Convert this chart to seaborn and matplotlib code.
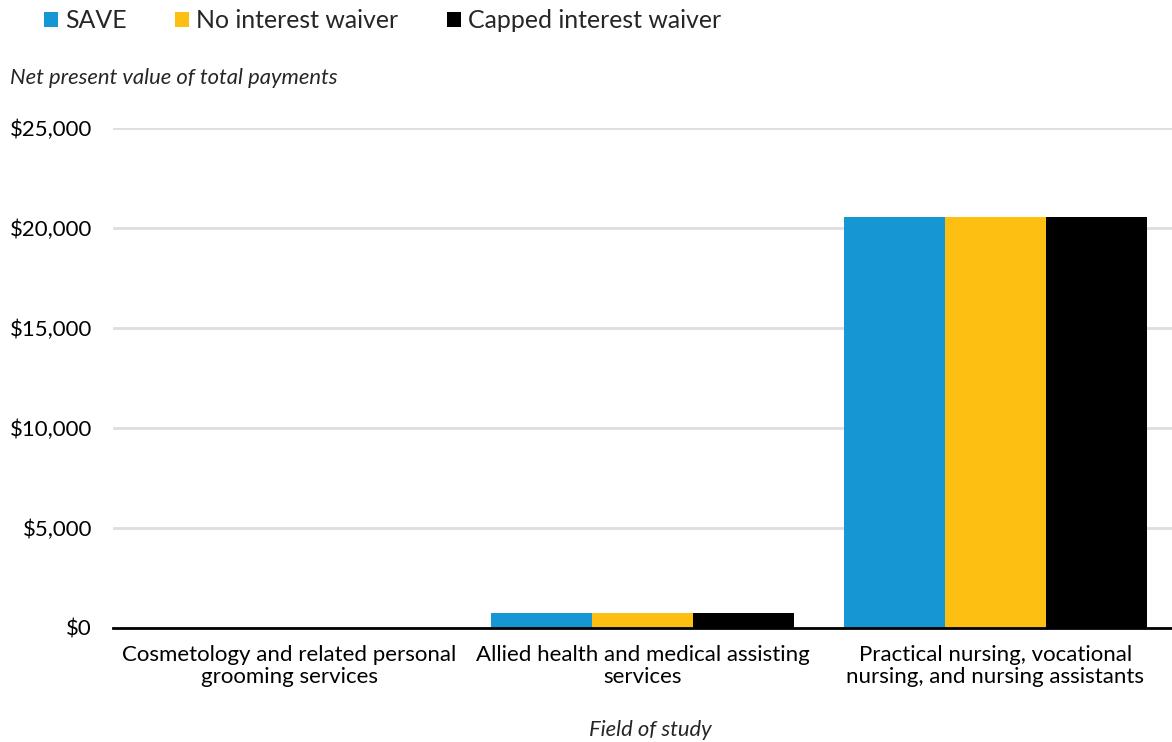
import numpy as np
import pandas as pd
import matplotlib
matplotlib.use("Agg")
import matplotlib.pyplot as plt
import seaborn as sns
from matplotlib.ticker import FuncFormatter
from matplotlib.patches import Patch

categories = ["Cosmetology and related personal\ngrooming services",
              "Allied health and medical assisting\nservices",
              "Practical nursing, vocational\nnursing, and nursing assistants"]
series = ["SAVE", "No interest waiver", "Capped interest waiver"]
save_vals = [0, 740, 20550]
no_waiver_vals = [0, 740, 20550]
capped_vals = [0, 740, 20550]
colors = ["#1696d2", "#fdbf11", "#000000"]
yticks = [0, 5000, 10000, 15000, 20000, 25000]

rows = []
for s, vals in zip(series, [save_vals, no_waiver_vals, capped_vals]):
    for c, v in zip(categories, vals):
        rows.append({"Field": c, "Series": s, "Value": v})
df = pd.DataFrame(rows)

sns.set_theme(style="white")
plt.rcParams['font.family'] = ['Lato', 'DejaVu Sans']

W, H = 1172, 742
fig = plt.figure(figsize=(W/100, H/100), dpi=100)
ax = fig.add_axes([113/W, 1-628/H, (1172-113)/W, 500/H])

sns.barplot(data=df, x="Field", y="Value", hue="Series", order=categories,
            hue_order=series, palette=colors, width=0.86, saturation=1,
            ax=ax, legend=False, linewidth=0)

ax.set_ylim(0, 25000)
ax.set_xlim(-0.5, 2.5)
ax.set_yticks(yticks)
ax.yaxis.set_major_formatter(FuncFormatter(lambda v, p: f"${v:,.0f}"))
ax.grid(axis="y", color="#dedede", linewidth=2)
ax.set_axisbelow(True)
for sp in ["top", "right", "left"]:
    ax.spines[sp].set_visible(False)
ax.spines["bottom"].set_color("#000000")
ax.spines["bottom"].set_linewidth(2)
ax.spines["bottom"].set_zorder(5)
ax.tick_params(axis="both", length=0, labelsize=16, colors="#000000")
ax.tick_params(axis="y", pad=15)
ax.tick_params(axis="x", pad=12)
for lbl in ax.get_xticklabels():
    lbl.set_linespacing(1.15)
ax.set_xlabel("")
ax.set_ylabel("")

fig.text(10/W, 1-78/H, "Net present value of total payments", style="italic",
         fontsize=15.8, va="center", ha="left")
fig.text(650/W, 1-730/H, "Field of study", style="italic",
         fontsize=15.8, va="center", ha="center")

handles = [Patch(facecolor=c, edgecolor="none", label=s) for c, s in zip(colors, series)]
fig.legend(handles=handles, loc="center left", bbox_to_anchor=(44/W, 1-21/H),
           ncol=3, frameon=False, fontsize=17.9, handlelength=0.55, handleheight=0.55,
           handletextpad=0.3, columnspacing=1.95, borderaxespad=0, borderpad=0)

fig.savefig("out.png", dpi=100)
